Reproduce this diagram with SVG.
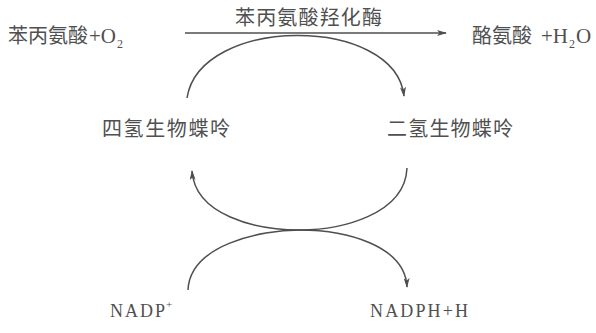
<svg xmlns="http://www.w3.org/2000/svg" width="596" height="333" viewBox="0 0 596 333">
  <style>
    .t { font-family: "Liberation Serif", "Noto Sans CJK SC", serif; fill: #505050; }
    .cn { font-size: 20px; }
    .lat { font-size: 21px; }
    .sub { font-size: 12px; }
    .sup { font-size: 11px; }
    .lbl { font-size: 18px; }
    .line { fill: none; stroke: #4f4f4f; stroke-width: 1.5; }
  </style>
  <defs>
    <marker id="arr" viewBox="0 0 10 6" refX="9" refY="3" markerWidth="10" markerHeight="6" markerUnits="userSpaceOnUse" orient="auto">
      <path d="M0,0 L10,3 L0,6 L2.5,3 Z" fill="#4f4f4f"/>
    </marker>
  </defs>
  <rect width="596" height="333" fill="#ffffff"/>

  <!-- connectors -->
  <g id="connectors">
    <!-- enzyme reaction -->
    <path class="line" d="M185,33 L446,33" marker-end="url(#arr)"/>
    <!-- cofactor oxidation: tetrahydro → dihydro -->
    <path class="line" d="M187,98 C200,15 395,15 404,96" marker-end="url(#arr)"/>
    <!-- cofactor regeneration: dihydro → tetrahydro -->
    <path class="line" d="M407,168 C405,215 340,230 300,230 C255,230 195,215 192,171" marker-end="url(#arr)"/>
    <!-- NADP+ → NADPH+H -->
    <path class="line" d="M188,290 C190,245 260,230 300,230 C345,230 405,245 407,287" marker-end="url(#arr)"/>
  </g>

  <g id="phe">
    <text class="t cn" x="8" y="43" textLength="80" lengthAdjust="spacing">苯丙氨酸</text>
    <text class="t lat" x="89" y="43">+O</text>
    <text class="t sub" x="117" y="48">2</text>
  </g>

  <g id="enzyme">
    <text class="t cn" x="235" y="25" textLength="147" lengthAdjust="spacing">苯丙氨酸羟化酶</text>
  </g>

  <g id="tyr">
    <text class="t cn" x="472" y="43" textLength="60" lengthAdjust="spacing">酪氨酸</text>
    <text class="t lat" x="541" y="43">+H</text>
    <text class="t sub" x="569" y="48">2</text>
    <text class="t lat" x="576" y="43">O</text>
  </g>

  <g id="bh4">
    <text class="t cn" x="102" y="136" textLength="128" lengthAdjust="spacing">四氢生物蝶呤</text>
  </g>

  <g id="bh2">
    <text class="t cn" x="387" y="136" textLength="126" lengthAdjust="spacing">二氢生物蝶呤</text>
  </g>

  <g id="nadp">
    <text class="t lbl" x="110" y="317" textLength="55" lengthAdjust="spacing">NADP</text>
    <text class="t sup" x="166" y="308">+</text>
  </g>

  <g id="nadph">
    <text class="t lbl" x="370" y="317" textLength="98" lengthAdjust="spacing">NADPH+H</text>
  </g>
</svg>
